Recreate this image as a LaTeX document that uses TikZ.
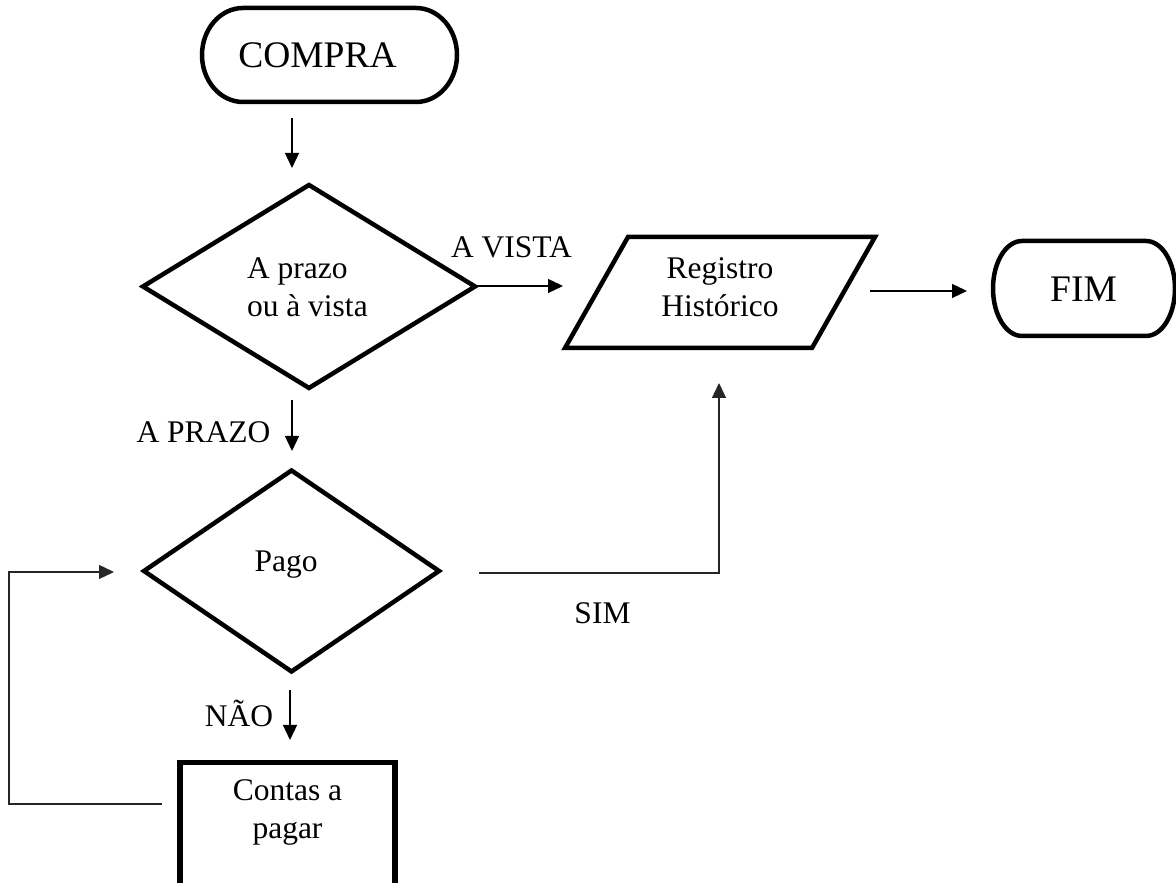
\documentclass[tikz,border=0pt]{standalone}
\usepackage{fontspec}
\setmainfont{Liberation Serif}
\usetikzlibrary{arrows.meta,shapes.geometric}

% Terminal (start/end) outline: straight top and bottom, elliptic ends.
% #1,#2 centre; #3,#4 half width and half height; #5 horizontal radius of the ends
\newcommand{\terminalpath}[5]{%
  \draw[outline] (#1-#3+#5,#2+#4) -- (#1+#3-#5,#2+#4)
    arc[start angle=90,end angle=-90,x radius=#5,y radius=#4]
    -- (#1-#3+#5,#2-#4)
    arc[start angle=270,end angle=90,x radius=#5,y radius=#4] -- cycle;}

\tikzset{
  outline/.style={draw=black,line width=4.5pt,line join=miter},
  flow/.style={draw=black,line width=1.3pt,-{Triangle[length=15pt,width=14pt]}},
  link/.style={draw=black!85,line width=1.3pt},
  body/.style={font=\fontsize{31.5}{38}\selectfont,inner sep=0pt,outer sep=0pt,anchor=base},
  big/.style={font=\fontsize{37.5}{44}\selectfont,inner sep=0pt,outer sep=0pt,anchor=base},
  decision/.style={diamond,outline,inner sep=0pt,outer sep=0pt},
}

\begin{document}
\begin{tikzpicture}[x=1pt,y=1pt]
\useasboundingbox (0,0) rectangle (1176,883);
\clip (0,0) rectangle (1176,883);

% ---- shapes ----
\terminalpath{329.5}{828}{127.5}{47}{41}
\node[big] (compra) at (317.5,815) {COMPRA};

\node[decision,minimum width=332pt,minimum height=203pt] (choice) at (309,596.5) {};
% multi-line labels: the base anchor sits on the last line
\node[body,align=left,anchor=base west] (choicetext) at (247,566) {A prazo\\ou à vista};

\coordinate (p1) at (565,535);
\coordinate (p2) at (812,535);
\coordinate (p3) at (875,646);
\coordinate (p4) at (628,646);
\draw[outline] (p1) -- (p2) -- (p3) -- (p4) -- cycle;
\node[body,align=center] (registro) at (720,566) {Registro\\Histórico};

\terminalpath{1084}{594.5}{91}{47.5}{29}
\node[big] (fim) at (1083.5,581) {FIM};

\node[decision,minimum width=295pt,minimum height=201pt] (pago) at (291.5,312) {};
\node[body] (pagotext) at (286,311) {Pago};

\node[draw=black,line width=5.5pt,minimum width=215pt,minimum height=143pt,
      inner sep=0pt,anchor=north] (contas) at (287.5,123) {};
\node[body,align=center] (contastext) at (287.5,44) {Contas a\\pagar};

% ---- labels ----
\node[body] (avista) at (511.5,625) {A VISTA};
\node[body] (aprazo) at (203.5,440) {A PRAZO};
\node[body] (sim) at (602.5,259) {SIM};
\node[body] (nao) at (239,156) {NÃO};

% ---- connector ends ----
\coordinate (c1a) at (292,765);  \coordinate (c1b) at (292,715);
\coordinate (c2a) at (475,597);  \coordinate (c2b) at (563,597);
\coordinate (c3a) at (870,592);  \coordinate (c3b) at (967,592);
\coordinate (c4a) at (292,483);  \coordinate (c4b) at (292,432);
\coordinate (c5a) at (479,310);  \coordinate (c5b) at (719,500);
\coordinate (c6a) at (290,193);  \coordinate (c6b) at (290,143);
\coordinate (c7a) at (162,79);   \coordinate (c7b) at (114,311);
\coordinate (c7x) at (9,79);

% ---- connectors ----
\draw[flow] (c1a) -- (c1b);
\draw[flow] (c2a) -- (c2b);
\draw[flow] (c3a) -- (c3b);
\draw[flow] (c4a) -- (c4b);
\draw[link,-{Triangle[length=15pt,width=14pt]}] (c5a) -| (c5b);
\draw[flow] (c6a) -- (c6b);
\draw[link,-{Triangle[length=15pt,width=14pt]}] (c7a) -- (c7x) |- (c7b);
\end{tikzpicture}
\end{document}
